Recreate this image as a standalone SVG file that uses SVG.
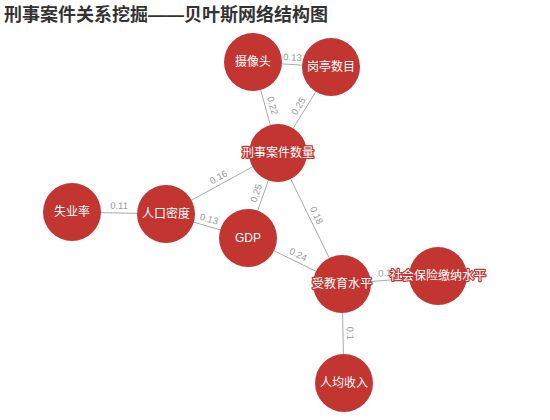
<svg xmlns="http://www.w3.org/2000/svg" width="550" height="420" viewBox="0 0 550 420">
<style>
.title{font-family:"Liberation Sans","Noto Sans CJK SC",sans-serif;font-size:18px;font-weight:bold;fill:#333}
.edge{stroke:#aaa;stroke-width:1;fill:none}
.el{font-family:"Liberation Sans","Noto Sans CJK SC",sans-serif;font-size:9.5px;fill:#999;text-anchor:middle}
.node circle{fill:#c23531}
.node text{font-family:"Liberation Sans","Noto Sans CJK SC",sans-serif;font-size:12px;fill:#fff;text-anchor:middle;dominant-baseline:central;stroke:#c23531;stroke-width:2.5;paint-order:stroke;stroke-linejoin:round}
</style>
<rect width="550" height="420" fill="#fff"/>
<text class="title" x="4" y="21">刑事案件关系挖掘——贝叶斯网络结构图</text>
<g id="connectors">
<line class="edge" x1="253" y1="62" x2="331" y2="67"/>
<line class="edge" x1="253" y1="62" x2="278" y2="153"/>
<line class="edge" x1="331" y1="67" x2="278" y2="153"/>
<line class="edge" x1="278" y1="153" x2="166" y2="214"/>
<line class="edge" x1="278" y1="153" x2="248" y2="238"/>
<line class="edge" x1="278" y1="153" x2="342" y2="284"/>
<line class="edge" x1="72" y1="212" x2="166" y2="214"/>
<line class="edge" x1="166" y1="214" x2="248" y2="238"/>
<line class="edge" x1="248" y1="238" x2="342" y2="284"/>
<line class="edge" x1="342" y1="284" x2="438" y2="276"/>
<line class="edge" x1="342" y1="284" x2="344" y2="383"/>
<text class="el" transform="translate(292,64.5) rotate(3.7)" y="-4">0.13</text>
<text class="el" transform="translate(265.5,107.5) rotate(74.6)" y="-4">0.22</text>
<text class="el" transform="translate(304.5,110) rotate(-58.5)" y="-4">0.25</text>
<text class="el" transform="translate(222,183.5) rotate(-28.6)" y="-4">0.16</text>
<text class="el" transform="translate(263,195.5) rotate(-70.6)" y="-4">0.25</text>
<text class="el" transform="translate(310,218.5) rotate(63.9)" y="-4">0.18</text>
<text class="el" transform="translate(119,213) rotate(1.2)" y="-4">0.11</text>
<text class="el" transform="translate(207,226) rotate(16.3)" y="-4">0.13</text>
<text class="el" transform="translate(295,261) rotate(26)" y="-4">0.24</text>
<text class="el" transform="translate(388,280) rotate(-4.8)" y="-4">0.19</text>
<text class="el" transform="translate(343,333.5) rotate(88.8)" y="-4">0.1</text>
</g>
<g id="n-camera" class="node"><circle cx="253" cy="62" r="29"/><text x="253" y="62">摄像头</text></g>
<g id="n-booth" class="node"><circle cx="331" cy="67" r="29"/><text x="331" y="67">岗亭数目</text></g>
<g id="n-crime" class="node"><circle cx="278" cy="153" r="29"/><text x="278" y="153">刑事案件数量</text></g>
<g id="n-unemp" class="node"><circle cx="72" cy="212" r="29"/><text x="72" y="212">失业率</text></g>
<g id="n-density" class="node"><circle cx="166" cy="214" r="29"/><text x="166" y="214">人口密度</text></g>
<g id="n-gdp" class="node"><circle cx="248" cy="238" r="29"/><text x="248" y="238">GDP</text></g>
<g id="n-social" class="node"><circle cx="438" cy="276" r="29"/><text x="438" y="276">社会保险缴纳水平</text></g>
<g id="n-edu" class="node"><circle cx="342" cy="284" r="29"/><text x="342" y="284">受教育水平</text></g>
<g id="n-income" class="node"><circle cx="344" cy="383" r="29"/><text x="344" y="383">人均收入</text></g>
</svg>
